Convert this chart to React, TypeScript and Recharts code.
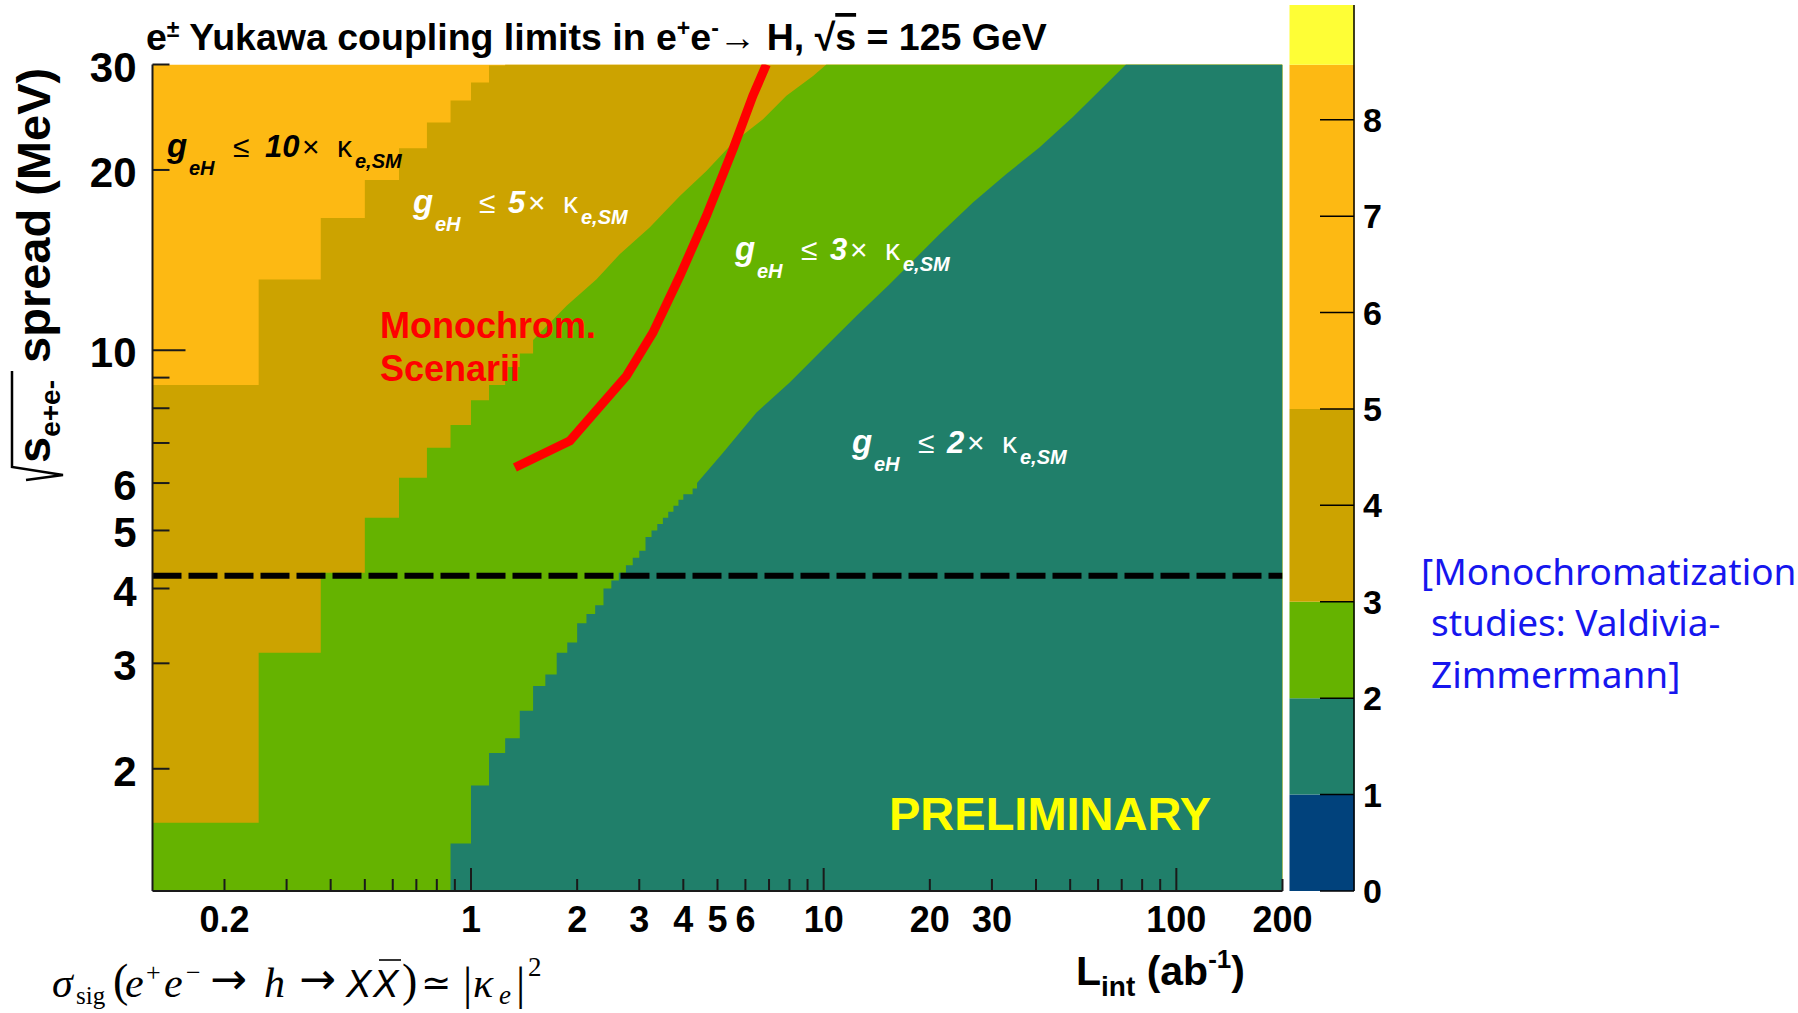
import React from 'react';
import { ComposedChart, BarChart, Bar, Area, Line, XAxis, YAxis } from 'recharts';

const SANS = '"Liberation Sans", Arial, Helvetica, sans-serif';
const SERIF = '"Liberation Serif", "DejaVu Serif", serif';

const C_ORANGE = '#fdb913';
const C_OLIVE = '#cca300';
const C_GREEN = '#65b300';
const C_TEAL = '#207f6a';
const C_BLUE = '#01427c';
const C_YELLOW = '#fefe36';

// ---------- axes ----------
const lumiRange = [0.125, 200];
const spreadRange = [1.25, 30];
const lumiTicks = [0.2, 0.3, 0.4, 0.5, 0.6, 0.7, 0.8, 0.9, 1, 2, 3, 4, 5, 6, 7, 8, 9, 10, 20, 30, 40, 50, 60, 70, 80, 90, 100, 200];
const lumiTickLabels = [0.2, 1, 2, 3, 4, 5, 6, 10, 20, 30, 100, 200];
const lumiMajorTicks = [1, 10, 100];
const spreadTicks = [2, 3, 4, 5, 6, 7, 8, 9, 10, 20, 30];
const spreadTickLabels = [2, 3, 4, 5, 6, 10, 20, 30];
const spreadMajorTicks = [10];

// ---------- contour boundaries (L_int in ab^-1, spread in MeV) ----------
// g <= 5 region (olive) lies below this boundary, orange above
const limit5ColL = [0.125, 0.25, 0.375, 0.5, 0.625, 0.75, 0.875, 1.0, 1.125, 1.25];
const limit5ColS = [8.75, 13.125, 16.625, 19.25, 21.75, 24.0, 26.125, 28.0, 29.875];
const limit5CurveL = [1.25, 200];
const limit5CurveS = [30, 30];

// g <= 3 region (green)
const limit3ColL = [0.125, 0.25, 0.375, 0.5, 0.625, 0.75, 0.875, 1.0, 1.125, 1.25, 1.375, 1.5];
const limit3ColS = [1.625, 3.125, 4.25, 5.25, 6.125, 6.875, 7.5, 8.25, 8.75, 9.375, 9.875];
const limit3CurveL = [1.5, 1.867, 2.27, 2.64, 3.21, 3.91, 4.65, 5.53, 6.73, 7.84, 9.33, 10.18, 200];
const limit3CurveS = [10.4, 11.86, 13.14, 14.46, 16.03, 18.1, 19.92, 22.2, 24.3, 26.6, 28.7, 30, 30];

// g <= 2 region (teal)
const limit2ColL = [0.875, 1.0, 1.125, 1.25, 1.375, 1.5, 1.625, 1.75, 1.875, 2.0, 2.125, 2.25, 2.375, 2.5, 2.625, 2.75, 2.875, 3.0, 3.125, 3.25, 3.375, 3.5, 3.625, 3.75, 3.875, 4.0, 4.25, 4.375];
const limit2ColS = [1.5, 1.875, 2.125, 2.25, 2.5, 2.75, 2.875, 3.125, 3.25, 3.5, 3.625, 3.75, 4.0, 4.125, 4.25, 4.375, 4.5, 4.625, 4.875, 5.0, 5.125, 5.25, 5.375, 5.5, 5.625, 5.75, 5.875];
const limit2CurveL = [4.375, 5.19, 6.45, 8.01, 9.95, 12.38, 15.38, 21.3, 26.5, 32.9, 40.9, 50.8, 63.2, 72.0, 200];
const limit2CurveS = [6.0, 6.75, 7.87, 8.83, 10.04, 11.41, 12.89, 15.62, 17.64, 19.67, 21.8, 24.5, 27.8, 30, 30];

// monochromatization scenarii (red curve)
const monoL = [1.332, 1.908, 2.76, 3.28, 3.91, 4.65, 5.53, 6.30, 6.88];
const monoS = [6.37, 7.06, 9.06, 10.7, 13.3, 16.76, 21.65, 26.6, 30];

// horizontal dashed reference
const dashedSpread = 4.2;

// palette (colour bar)
const paletteLevels = [0, 1, 2, 3, 5, 8.57, 9.19];
const paletteColors = [C_BLUE, C_TEAL, C_GREEN, C_OLIVE, C_ORANGE, C_YELLOW];
const paletteTicks = [0, 1, 2, 3, 4, 5, 6, 7, 8];

// ---------- build series ----------
function buildBoundary(colL: number[], colS: number[], curveL: number[], curveS: number[]) {
  const floor = spreadRange[0];
  const pts: { L: number; r: number[] }[] = [];
  for (let i = 0; i < colS.length; i++) {
    pts.push({ L: colL[i], r: [floor, colS[i]] });
    pts.push({ L: colL[i + 1], r: [floor, colS[i]] });
  }
  for (let i = 0; i < curveL.length; i++) pts.push({ L: curveL[i], r: [floor, curveS[i]] });
  return pts;
}

const orangeData = [
  { L: lumiRange[0], r: [spreadRange[0], spreadRange[1]] },
  { L: lumiRange[1], r: [spreadRange[0], spreadRange[1]] },
];
const oliveData = buildBoundary(limit5ColL, limit5ColS, limit5CurveL, limit5CurveS);
const greenData = buildBoundary(limit3ColL, limit3ColS, limit3CurveL, limit3CurveS);
const tealData = buildBoundary(limit2ColL, limit2ColS, limit2CurveL, limit2CurveS);
const monoData = monoL.map((L, i) => ({ L, s: monoS[i] }));
const dashedData = [{ L: lumiRange[0], s: dashedSpread }, { L: lumiRange[1], s: dashedSpread }];

const paletteRow: Record<string, any> = { name: 'pal' };
paletteColors.forEach((_, i) => {
  paletteRow['p' + i] = paletteLevels[i + 1] - paletteLevels[i];
});
const paletteData = [paletteRow];

// ---------- ticks ----------
const XTick = (props: any) => {
  const { x, y, payload } = props;
  const v = payload.value;
  const len = lumiMajorTicks.includes(v) ? 23 : 12;
  return (
    <g>
      <line x1={x} x2={x} y1={y} y2={y - len} stroke="#1a1a1a" strokeWidth={2} />
      {lumiTickLabels.includes(v) && (
        <text x={x} y={y + 41} textAnchor="middle" fontFamily={SANS} fontWeight="bold" fontSize={36} fill="#000">
          {String(v)}
        </text>
      )}
    </g>
  );
};

const YTick = (props: any) => {
  const { x, y, payload } = props;
  const v = payload.value;
  const len = spreadMajorTicks.includes(v) ? 33 : 17;
  return (
    <g>
      <line x1={x} x2={x + len} y1={y} y2={y} stroke="#1a1a1a" strokeWidth={2} />
      {spreadTickLabels.includes(v) && (
        <text x={x - 16} y={y + 17} textAnchor="end" fontFamily={SANS} fontWeight="bold" fontSize={42} fill="#000">
          {String(v)}
        </text>
      )}
    </g>
  );
};

const ZTick = (props: any) => {
  const { x, y, payload } = props;
  return (
    <g>
      <line x1={x - 34} x2={x} y1={y} y2={y} stroke="#000" strokeWidth={1.5} />
      <text x={x + 9} y={y + 12} textAnchor="start" fontFamily={SANS} fontWeight="bold" fontSize={34} fill="#000">
        {String(payload.value)}
      </text>
    </g>
  );
};

// ---------- annotation helpers ----------
function Coupling({ x, y, factor, color }: { x: number; y: number; factor: string; color: string }) {
  const numX = x + (factor.length > 1 ? 98 : 95);
  const timesX = numX + 17 * factor.length + 3;
  const kapX = timesX + 35;
  return (
    <g fill={color} fontFamily={SANS}>
      <text x={x} y={y} fontSize={33} fontStyle="italic" fontWeight="bold">g</text>
      <text x={x + 22} y={y + 17.5} fontSize={20} fontStyle="italic" fontWeight="bold">eH</text>
      <text x={x + 66} y={y} fontSize={30}>≤</text>
      <text x={numX} y={y} fontSize={31} fontStyle="italic" fontWeight="bold">{factor}</text>
      <text x={timesX} y={y} fontSize={30}>×</text>
      <text x={kapX} y={y} fontSize={30}>κ</text>
      <text x={kapX + 18} y={y + 11} fontSize={20} fontStyle="italic" fontWeight="bold">e,SM</text>
    </g>
  );
}

function Formula() {
  const base = 997;
  const ARROW = '"DejaVu Sans", sans-serif';
  return (
    <g fontFamily={SERIF} fill="#000">
      <text x={52} y={base} fontSize={42} fontStyle="italic">σ</text>
      <text x={76} y={base + 7} fontSize={25}>sig</text>
      <text x={113} y={base - 1} fontSize={46}>(</text>
      <text x={125} y={base} fontSize={42} fontStyle="italic">e</text>
      <text x={146} y={base - 16} fontSize={26}>+</text>
      <text x={164} y={base} fontSize={42} fontStyle="italic">e</text>
      <text x={186} y={base - 16} fontSize={26}>−</text>
      <text x={210} y={base - 3} fontSize={44} fontFamily={ARROW}>→</text>
      <text x={264} y={base} fontSize={42} fontStyle="italic">h</text>
      <text x={299} y={base - 3} fontSize={44} fontFamily={ARROW}>→</text>
      <text x={346} y={base} fontSize={38} fontFamily={SANS} fontStyle="italic">X</text>
      <text x={373} y={base} fontSize={38} fontFamily={SANS} fontStyle="italic">X</text>
      <line x1={379} x2={401} y1={960} y2={960} stroke="#000" strokeWidth={1.6} />
      <text x={402} y={base - 1} fontSize={46}>)</text>
      <text x={421} y={base - 2} fontSize={36} fontFamily={ARROW}>≃</text>
      <text x={463} y={base + 2} fontSize={46}>|</text>
      <text x={473} y={base} fontSize={42} fontStyle="italic">κ</text>
      <text x={499} y={base + 7} fontSize={27} fontStyle="italic">e</text>
      <text x={516} y={base + 2} fontSize={46}>|</text>
      <text x={528} y={base - 21} fontSize={27}>2</text>
    </g>
  );
}

function Overlay() {
  return (
    <svg width={1798} height={1013} style={{ position: 'absolute', left: 0, top: 0, pointerEvents: 'none' }}>
      {/* title */}
      <text x={146} y={50} fontFamily={SANS} fontWeight="bold" fontSize={37.5} fill="#000">
        e<tspan fontSize={23} dy={-13}>±</tspan>
        <tspan dy={13}> Yukawa coupling limits in e</tspan>
        <tspan fontSize={23} dy={-14}>+</tspan>
        <tspan dy={14}>e</tspan>
        <tspan fontSize={23} dy={-14}>-</tspan>
        <tspan dy={14}>→ H,  √</tspan>
        <tspan style={{ textDecoration: 'overline' }}>s</tspan>
        <tspan> = 125 GeV</tspan>
      </text>

      {/* y axis title */}
      <g transform="translate(50,483) rotate(-90)">
        <polyline points="3,-24 8,13 16,-38 112,-38" fill="none" stroke="#000" strokeWidth={2.5} />
        <text x={20} y={0} fontFamily={SANS} fontWeight="bold" fontSize={47} fill="#000">
          s<tspan fontSize={28} dy={10}>e+e-</tspan>
          <tspan dy={-10} dx={4}> spread (MeV)</tspan>
        </text>
      </g>

      {/* x axis title */}
      <text x={1076} y={985} fontFamily={SANS} fontWeight="bold" fontSize={41} fill="#000">
        L<tspan fontSize={28} dy={11}>int</tspan>
        <tspan dy={-11}> (ab</tspan>
        <tspan fontSize={26} dy={-17}>-1</tspan>
        <tspan dy={17}>)</tspan>
      </text>

      {/* region labels */}
      <Coupling x={167} y={157} factor="10" color="#000" />
      <Coupling x={413} y={213} factor="5" color="#fff" />
      <Coupling x={735} y={260} factor="3" color="#fff" />
      <Coupling x={852} y={453} factor="2" color="#fff" />

      <text x={380} y={338} fontFamily={SANS} fontWeight="bold" fontSize={36} fill="#ff0000">Monochrom.</text>
      <text x={380} y={381} fontFamily={SANS} fontWeight="bold" fontSize={36} fill="#ff0000">Scenarii</text>

      <text x={889} y={830} fontFamily={SANS} fontWeight="bold" fontSize={47} fill="#ffff00">PRELIMINARY</text>

      <Formula />

      {/* reference note */}
      <g fontFamily={'"Noto Sans", "Open Sans", sans-serif'} fontSize={37} fill="#1616ee">
        <text x={1421} y={585}>[Monochromatization</text>
        <text x={1431} y={636}>studies: Valdivia-</text>
        <text x={1431} y={688}>Zimmermann]</text>
      </g>
    </svg>
  );
}

export default function App() {
  return (
    <div style={{ position: 'absolute', left: 0, top: 0, width: 1798, height: 1013, background: '#fff', overflow: 'hidden' }}>
      <div style={{ position: 'absolute', left: 0, top: 0 }}>
        <ComposedChart width={1798} height={1013} margin={{ top: 64.5, right: 515.5, bottom: 62, left: 92.5 }}>
          <Area data={orangeData} dataKey="r" type="linear" stroke="none" fill={C_ORANGE} fillOpacity={1} dot={false} activeDot={false} isAnimationActive={false} />
          <Area data={oliveData} dataKey="r" type="linear" stroke="none" fill={C_OLIVE} fillOpacity={1} dot={false} activeDot={false} isAnimationActive={false} />
          <Area data={greenData} dataKey="r" type="linear" stroke="none" fill={C_GREEN} fillOpacity={1} dot={false} activeDot={false} isAnimationActive={false} />
          <Area data={tealData} dataKey="r" type="linear" stroke="none" fill={C_TEAL} fillOpacity={1} dot={false} activeDot={false} isAnimationActive={false} />
          <Line data={dashedData} dataKey="s" type="linear" stroke="#000" strokeWidth={6} strokeDasharray="29 7" dot={false} activeDot={false} isAnimationActive={false} />
          <Line data={monoData} dataKey="s" type="linear" stroke="#ff0000" strokeWidth={9} dot={false} activeDot={false} isAnimationActive={false} />
          <XAxis
            dataKey="L"
            type="number"
            scale="log"
            domain={lumiRange}
            allowDataOverflow
            ticks={lumiTicks}
            interval={0}
            tick={<XTick />}
            tickSize={0}
            tickMargin={0}
            tickLine={false}
            height={60}
            axisLine={{ stroke: '#1a1a1a', strokeWidth: 2 }}
          />
          <YAxis
            type="number"
            scale="log"
            domain={spreadRange}
            allowDataOverflow
            ticks={spreadTicks}
            interval={0}
            tick={<YTick />}
            tickSize={0}
            tickMargin={0}
            tickLine={false}
            width={60}
            axisLine={{ stroke: '#1a1a1a', strokeWidth: 2 }}
          />
        </ComposedChart>
      </div>
      <div style={{ position: 'absolute', left: 0, top: 0 }}>
        <BarChart width={1798} height={1013} data={paletteData} margin={{ top: 5, right: 384, bottom: 122, left: 1289.5 }} barCategoryGap={0} barGap={0}>
          <XAxis dataKey="name" hide />
          <YAxis
            orientation="right"
            type="number"
            domain={[paletteLevels[0], paletteLevels[paletteLevels.length - 1]]}
            allowDataOverflow
            ticks={paletteTicks}
            interval={0}
            tick={<ZTick />}
            tickSize={0}
            tickMargin={0}
            tickLine={false}
            width={60}
            axisLine={{ stroke: '#000', strokeWidth: 1.5 }}
          />
          {paletteColors.map((c, i) => (
            <Bar key={i} dataKey={'p' + i} stackId="pal" fill={c} isAnimationActive={false} />
          ))}
        </BarChart>
      </div>
      <Overlay />
    </div>
  );
}
